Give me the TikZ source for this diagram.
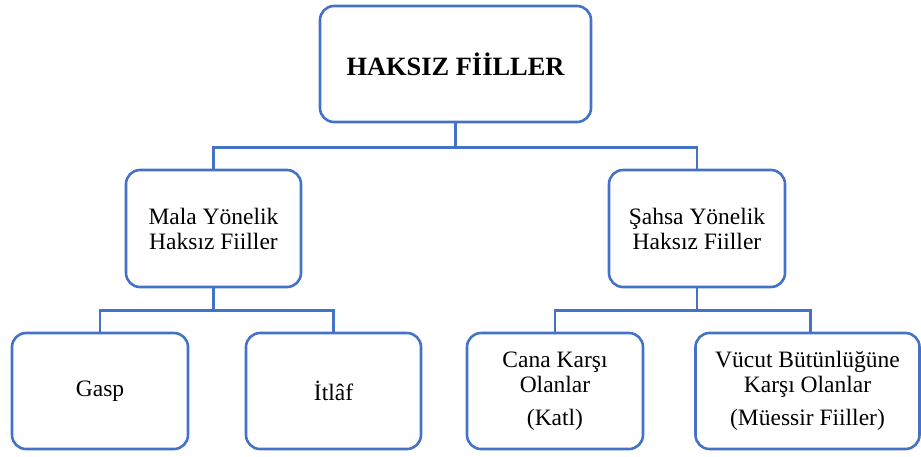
\documentclass[tikz,border=0pt]{standalone}
\usepackage{fontspec}
\setmainfont{Liberation Serif}
\definecolor{boxblue}{RGB}{68,114,196}
\begin{document}
\begin{tikzpicture}[x=1pt,y=-1pt,
  box/.style={draw=boxblue, line width=2.6pt, rounded corners=14pt, fill=white,
    align=center, inner sep=0pt, font=\fontsize{23.5}{25}\selectfont},
  link/.style={draw=boxblue, line width=2.6pt}]
\useasboundingbox (0,0) rectangle (921,456);
\node[box, minimum width=271pt, minimum height=116pt, font=\fontsize{26.4}{28}\selectfont\bfseries] (top) at (455.5,64) {HAKSIZ FİİLLER};
\node[box, minimum width=175pt, minimum height=117pt] (mala) at (213.5,228.5) {Mala Yönelik\\Haksız Fiiller};
\node[box, minimum width=176pt, minimum height=117pt] (sahsa) at (697,228.5) {Şahsa Yönelik\\Haksız Fiiller};
\node[box, minimum width=176pt, minimum height=116pt] (gasp) at (100,391) {Gasp};
\node[box, minimum width=175pt, minimum height=116pt] (itlaf) at (333.5,391) {İtlâf};
\node[box, minimum width=176pt, minimum height=116pt] (cana) at (555,391) {Cana Karşı\\Olanlar\\[8pt](Katl)};
\node[box, minimum width=224pt, minimum height=116pt] (vucut) at (807.5,391) {Vücut Bütünlüğüne\\Karşı Olanlar\\[8pt](Müessir Fiiller)};
\coordinate (vucutin) at ([xshift=3pt]vucut.north);
\draw[link] (top.south) -- ++(0,24) coordinate (tb) -| (mala.north);
\draw[link] (tb) -| (sahsa.north);
\draw[link] (mala.south) -- ++(0,22) coordinate (mb) -| (gasp.north);
\draw[link] (mb) -| (itlaf.north);
\draw[link] (sahsa.south) -- ++(0,22) coordinate (sb) -| (cana.north);
\draw[link] (sb) -| (vucutin);
\end{tikzpicture}
\end{document}
